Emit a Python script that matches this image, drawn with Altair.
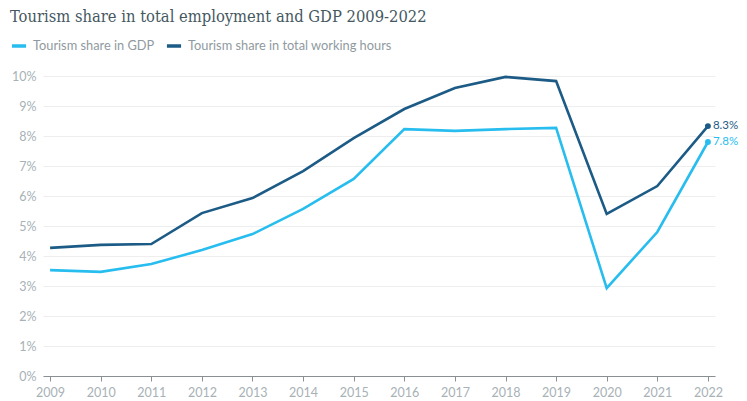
import altair as alt
import pandas as pd

years = list(range(2009, 2023))
gdp = [3.53, 3.47, 3.73, 4.2, 4.73, 5.57, 6.57, 8.23, 8.17, 8.23, 8.27, 2.93, 4.8, 7.8]
hours = [4.27, 4.37, 4.4, 5.43, 5.93, 6.83, 7.93, 8.9, 9.6, 9.97, 9.83, 5.4, 6.33, 8.33]
series_names = ["Tourism share in GDP", "Tourism share in total working hours"]
colors = ["#27bdef", "#1c5b86"]
y_ticks = [0, 1, 2, 3, 4, 5, 6, 7, 8, 9, 10]

rows = []
for y, g, h in zip(years, gdp, hours):
    rows.append({"year": str(y), "series": series_names[0], "value": g})
    rows.append({"year": str(y), "series": series_names[1], "value": h})
df = pd.DataFrame(rows)
df["label"] = df["value"].map(lambda v: f"{v:.1f}%")

color_scale = alt.Scale(domain=series_names, range=colors)

x_enc = alt.X("year:O", title=None,
              scale=alt.Scale(type="point", padding=0.14),
              axis=alt.Axis(labelAngle=0, domainColor="#8a8f92", tickColor="#8a8f92",
                            tickSize=5, labelPadding=5, grid=False))
y_enc = alt.Y("value:Q", title=None,
              scale=alt.Scale(domain=[0, 10], nice=False),
              axis=alt.Axis(values=y_ticks, labelExpr="datum.value + '%'",
                            domain=False, ticks=False, gridColor="#eeeeee",
                            labelPadding=7, labelOverlap=False))

lines = alt.Chart(df).mark_line(strokeWidth=2.6).encode(
    x=x_enc, y=y_enc,
    color=alt.Color("series:N", scale=color_scale, title=None,
                    legend=alt.Legend(orient="none", legendX=-33, legendY=-39,
                                      direction="horizontal", symbolType="stroke",
                                      symbolStrokeWidth=3.5, symbolSize=200,
                                      labelFontSize=12.8, labelColor="#8f9aa0",
                                      labelFont="Lato", columnPadding=4,
                                      labelLimit=400, labelOffset=5, symbolOffset=0))
)

last = df[df["year"] == "2022"]
pts = alt.Chart(last).mark_point(filled=True, size=35, opacity=1).encode(
    x=x_enc, y=y_enc,
    color=alt.Color("series:N", scale=color_scale, legend=None)
)
txt = alt.Chart(last).mark_text(align="left", dx=5, fontSize=11.5, font="Lato").encode(
    x=x_enc, y=y_enc, text="label:N",
    color=alt.Color("series:N", scale=color_scale, legend=None)
)

chart = alt.layer(lines, pts, txt).properties(
    width=672, height=300,
    autosize=alt.AutoSizeParams(type="none"),
    padding={"left": 35, "top": 68, "right": 24, "bottom": 30},
    title=alt.Title("Tourism share in total employment and GDP 2009-2022",
                    anchor="start", dx=0, offset=12, font="DejaVu Serif Condensed",
                    fontSize=16.4, fontWeight="normal", color="#45585f"),
).configure_view(stroke=None).configure_axis(
    labelFont="Lato", labelFontSize=12.5, labelColor="#a7b1b6"
)

chart.save("out.html", embed_options={"renderer": "svg", "actions": False})
